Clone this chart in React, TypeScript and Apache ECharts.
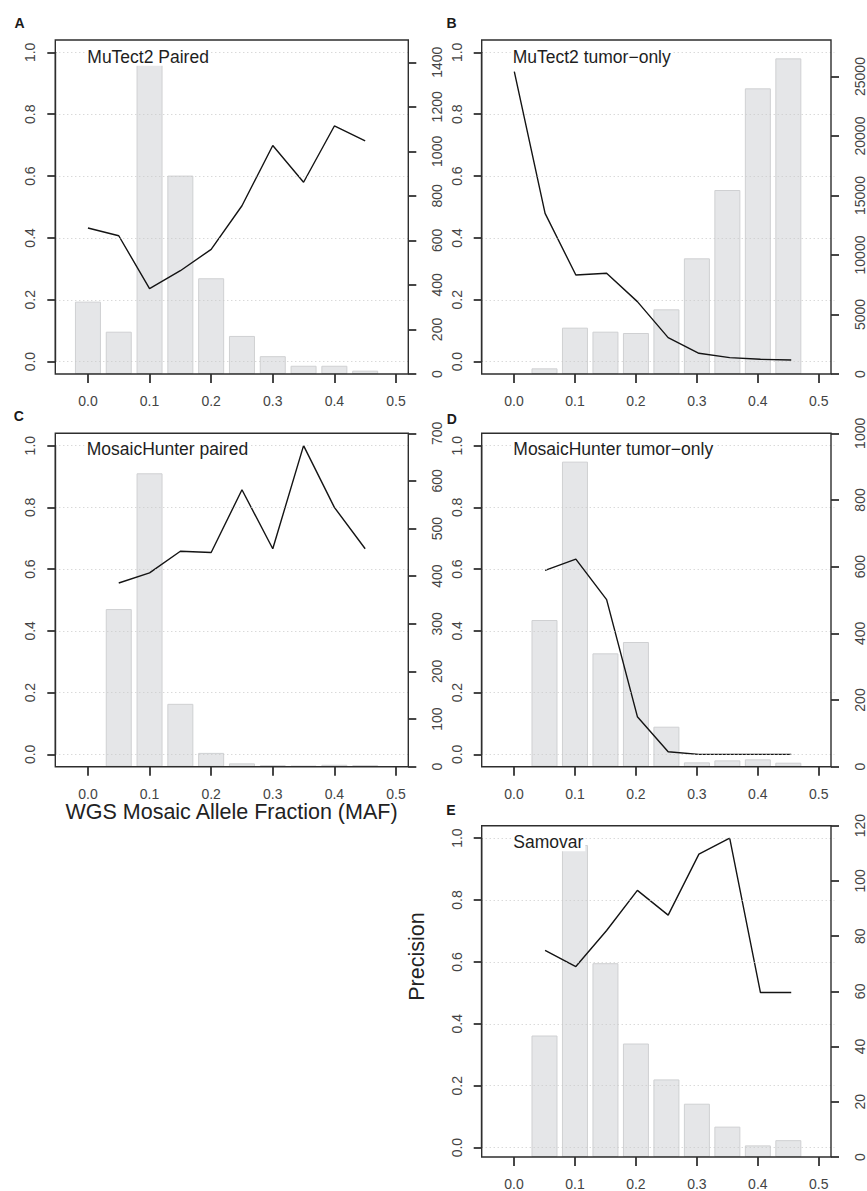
import React, { useEffect, useRef } from "react";
import * as echarts from "echarts";

const FONT = "'Liberation Sans', Arial, Helvetica, sans-serif";

// Shared axis values
const MAF_BINS = [0, 0.05, 0.1, 0.15, 0.2, 0.25, 0.3, 0.35, 0.4, 0.45];
const X_TICKS = [0, 0.1, 0.2, 0.3, 0.4, 0.5];

// Panel A: MuTect2 Paired
const A_COUNTS = [325, 190, 1420, 891, 430, 171, 80, 37, 37, 15];
const A_PRECISION = [0.432, 0.407, 0.236, 0.294, 0.363, 0.504, 0.699, 0.58, 0.762, 0.714];
const A_COUNT_TICKS = [0, 200, 400, 600, 800, 1000, 1200, 1400];

// Panel B: MuTect2 tumor-only
const B_COUNTS = [0, 476, 3894, 3557, 3445, 5434, 9720, 15462, 24006, 26527];
const B_PRECISION = [0.9375, 0.4795, 0.28, 0.2856, 0.194, 0.0776, 0.027, 0.013, 0.0075, 0.0054];
const B_COUNT_TICKS = [0, 5000, 10000, 15000, 20000, 25000];

// Panel C: MosaicHunter paired
const C_COUNTS = [0, 331, 616, 132, 29, 7, 3, 2, 4, 3];
const C_PRECISION = [null, 0.555, 0.588, 0.658, 0.654, 0.857, 0.666, 1.0, 0.8, 0.666];
const C_COUNT_TICKS = [0, 100, 200, 300, 400, 500, 600, 700];

// Panel D: MosaicHunter tumor-only
const D_COUNTS = [0, 440, 915, 340, 374, 120, 13, 19, 22, 12];
const D_PRECISION = [null, 0.596, 0.6325, 0.501, 0.122, 0.0086, 0, 0, 0, 0];
const D_COUNT_TICKS = [0, 200, 400, 600, 800, 1000];

// Panel E: Samovar
const E_COUNTS = [0, 44, 113, 70.2, 41.1, 28.1, 19.3, 11, 4.2, 6.1];
const E_PRECISION = [null, 0.637, 0.585, 0.7015, 0.831, 0.751, 0.948, 1.0, 0.501, 0.501];
const E_COUNT_TICKS = [0, 20, 40, 60, 80, 100, 120];

const PANELS = [
  { letter: "A", title: "MuTect2 Paired", counts: A_COUNTS, precision: A_PRECISION, ticks: A_COUNT_TICKS, max: 1500,
    left: 55.3, top: 40, width: 353, height: 334, tl: 85.3, tt: 44.7, lx: 19.5, ly: 23 },
  { letter: "B", title: "MuTect2 tumor\u2212only", counts: B_COUNTS, precision: B_PRECISION, ticks: B_COUNT_TICKS, max: 28070,
    left: 481.7, top: 40, width: 352.6, height: 334, tl: 510.7, tt: 44.7, lx: 451.5, ly: 22.5 },
  { letter: "C", title: "MosaicHunter paired", counts: C_COUNTS, precision: C_PRECISION, ticks: C_COUNT_TICKS, max: 700,
    left: 55.3, top: 433.3, width: 353, height: 333.4, tl: 84.7, tt: 437.3, lx: 18.7, ly: 416 },
  { letter: "D", title: "MosaicHunter tumor\u2212only", counts: D_COUNTS, precision: D_PRECISION, ticks: D_COUNT_TICKS, max: 1000,
    left: 481.7, top: 433.3, width: 352.6, height: 333.4, tl: 511.3, tt: 437.3, lx: 451.7, ly: 419 },
  { letter: "E", title: "Samovar", counts: E_COUNTS, precision: E_PRECISION, ticks: E_COUNT_TICKS, max: 120,
    left: 481.7, top: 825.7, width: 352.6, height: 334.3, tl: 511.3, tt: 830.2, lx: 451, ly: 810 },
];

const X_MIN = -0.053;
const X_MAX = 0.52;
const LINE_COLOR = "#2e2e2e";
const TICK_COLOR = "#333333";
const LABEL_COLOR = "#444";

function buildOption() {
  const grid: any[] = [];
  const xAxis: any[] = [];
  const yAxis: any[] = [];
  const series: any[] = [];
  const title: any[] = [];
  const graphic: any[] = [];

  PANELS.forEach((p, i) => {
    const gi = i * 2;
    grid.push({
      left: p.left, top: p.top, width: p.width, height: p.height, z: 5,
      show: true, borderColor: LINE_COLOR, borderWidth: 1.4, backgroundColor: "transparent",
    });
    grid.push({
      left: p.left, top: p.top + (p.height * 0.04) / 1.08, width: p.width, height: p.height / 1.08, show: false,
    });
    // outer x (bins)
    xAxis.push({
      gridIndex: gi, type: "value", min: X_MIN, max: X_MAX, position: "bottom", z: 4,
      axisLine: { show: false, onZero: false, lineStyle: { color: LINE_COLOR, width: 1.4 } },
      axisTick: { show: true, length: 9, customValues: X_TICKS, lineStyle: { color: TICK_COLOR, width: 1.8 } },
      axisLabel: { customValues: X_TICKS, formatter: (v: number) => v.toFixed(1), margin: 20, fontSize: 14,
        color: LABEL_COLOR, fontFamily: FONT },
      splitLine: { show: false },
    });
    // outer y (counts, right)
    yAxis.push({
      gridIndex: gi, type: "value", position: "right", min: 0, max: p.max, z: 4,
      axisLine: { show: false, onZero: false, lineStyle: { color: LINE_COLOR, width: 1.4 } },
      axisTick: { show: true, length: 8, customValues: p.ticks, lineStyle: { color: TICK_COLOR, width: 1.8 } },
      axisLabel: { customValues: p.ticks, rotate: 90, margin: 22, fontSize: 14, color: LABEL_COLOR, fontFamily: FONT,
        formatter: (v: number) => String(v) },
      splitLine: { show: false },
    });
    // inner x (hidden)
    xAxis.push({ gridIndex: gi + 1, type: "value", min: X_MIN, max: X_MAX, show: false,
      axisLine: { show: false, onZero: false } });
    // inner y (precision, left)
    yAxis.push({
      gridIndex: gi + 1, type: "value", position: "left", min: 0, max: 1, interval: 0.2, z: 4,
      axisLine: { show: true, onZero: false, lineStyle: { color: LINE_COLOR, width: 1.4 } },
      axisTick: { show: true, length: 8, inside: false, lineStyle: { color: TICK_COLOR, width: 1.8 } },
      axisLabel: { rotate: 90, margin: 18, fontSize: 14, color: LABEL_COLOR, fontFamily: FONT,
        formatter: (v: number) => v.toFixed(1) },
      splitLine: { show: true, lineStyle: { color: "#c9c9c9", width: 1, type: [1, 3] } },
    });

    series.push({
      type: "bar", xAxisIndex: gi, yAxisIndex: gi, silent: true, z: 2,
      data: MAF_BINS.map((x, j) => [x, p.counts[j] > 0 ? p.counts[j] : null]),
      barWidth: 26,
      itemStyle: { color: "#e5e6e8", borderColor: "#cfd0d2", borderWidth: 1 },
    });
    series.push({
      type: "line", xAxisIndex: gi + 1, yAxisIndex: gi + 1, silent: true, z: 3,
      data: MAF_BINS.map((x, j) => [x, p.precision[j]]).filter((d) => d[1] !== null),
      symbol: "none", showSymbol: false,
      lineStyle: { color: "#141414", width: 1.4 },
    });

    title.push({
      text: p.title, left: p.tl, top: p.tt, padding: [4, 2, 0, 2], backgroundColor: "#ffffff",
      textStyle: { fontSize: 17.5, fontWeight: "normal", color: "#1e1e1e", fontFamily: FONT, lineHeight: 16 },
    });

    graphic.push({
      type: "text", x: p.lx, y: p.ly, z: 10,
      style: { text: p.letter, font: `bold 14px ${FONT}`, fill: "#1a1a1a",
        align: "center", verticalAlign: "middle", textAlign: "center", textVerticalAlign: "middle" },
    });
  });

  graphic.push({
    type: "text", x: 231.5, y: 812, z: 10,
    style: { text: "WGS Mosaic Allele Fraction (MAF)", font: `21.5px ${FONT}`, fill: "#222",
      align: "center", verticalAlign: "middle", textAlign: "center", textVerticalAlign: "middle" },
  });
  graphic.push({
    type: "text", x: 416.7, y: 956.5, z: 10, rotation: Math.PI / 2,
    style: { text: "Precision", font: `21.5px ${FONT}`, fill: "#222",
      align: "center", verticalAlign: "middle", textAlign: "center", textVerticalAlign: "middle" },
  });

  return { animation: false, backgroundColor: "#ffffff", grid, xAxis, yAxis, series, title, graphic };
}

export default function App() {
  const ref = useRef<HTMLDivElement>(null);
  useEffect(() => {
    if (!ref.current) return;
    const chart = echarts.init(ref.current, undefined, { renderer: "svg" });
    chart.setOption(buildOption() as any);
    return () => chart.dispose();
  }, []);
  return (
    <div
      ref={ref}
      style={{ position: "absolute", left: 0, top: 0, width: 867, height: 1191, background: "#fff" }}
    />
  );
}
